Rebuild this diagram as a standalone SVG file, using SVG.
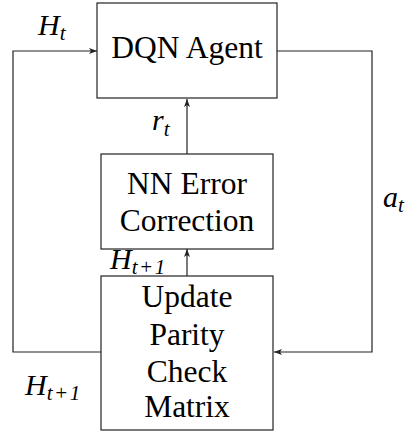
<svg xmlns="http://www.w3.org/2000/svg" width="408" height="434" viewBox="0 0 408 434">
<defs>
<marker id="arr" viewBox="0 0 8 6" refX="8" refY="3" markerWidth="8" markerHeight="6" markerUnits="userSpaceOnUse" orient="auto">
<path d="M0,0 L8,3 L0,6 L2,3 Z" fill="#222"/>
</marker>
</defs>
<style>
.box{fill:#fff;stroke:#222;stroke-width:1.2}
.t{font-size:31.5px;fill:#000;text-anchor:middle}
.m{font-style:italic;font-size:30px;fill:#000}
.s{font-size:21px}
.c{fill:none;stroke:#222;stroke-width:1.2}
</style>
<rect width="408" height="434" fill="#fff"/>
<g id="connectors">
<path class="c" d="M101,352 H13 V51 H97" marker-end="url(#arr)"/>
<path class="c" d="M277,51 H372 V352 H274" marker-end="url(#arr)"/>
<path class="c" d="M187,154 V99" marker-end="url(#arr)"/>
<path class="c" d="M187,276 V249" marker-end="url(#arr)"/>
</g>
<g font-family="Liberation Serif, DejaVu Serif, serif">
<g id="dqn">
<rect class="box" x="97" y="3" width="180" height="95"/>
<text class="t" x="187" y="58">DQN Agent</text>
</g>
<g id="nn">
<rect class="box" x="101" y="154" width="172" height="95"/>
<text class="t" x="187" y="194">NN Error</text>
<text class="t" x="187" y="231">Correction</text>
</g>
<g id="update">
<rect class="box" x="101" y="276" width="172" height="154"/>
<text class="t" x="187" y="307">Update</text>
<text class="t" x="187" y="345">Parity</text>
<text class="t" x="187" y="382">Check</text>
<text class="t" x="187" y="417">Matrix</text>
</g>
<g id="labels">
<text class="m" x="38" y="35">H<tspan class="s" dy="5">t</tspan></text>
<text class="m" x="152" y="130">r<tspan class="s" dy="6">t</tspan></text>
<text class="m" x="383" y="207">a<tspan class="s" dy="5">t</tspan></text>
<text class="m" x="110" y="269">H<tspan class="s" dy="5" letter-spacing="1.5">t+1</tspan></text>
<text class="m" x="25" y="395">H<tspan class="s" dy="5" letter-spacing="1.5">t+1</tspan></text>
</g>
</g>
</svg>
